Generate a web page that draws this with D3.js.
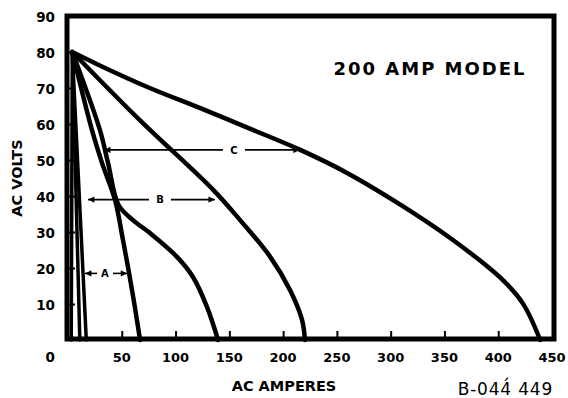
<!doctype html>
<html>
  <head>
    <script type="text/javascript" src="https://cdn.jsdelivr.net/npm/d3@7"></script>
    <style>
      body { margin: 0; background: #fff; }
      text { font-family: "DejaVu Sans", sans-serif; fill: #000; }
    </style>
  </head>

<body>
    <svg width="568" height="398"></svg>
<script>
// volt-ampere curves, [amps, volts]
const curveG1 = [[4, 80], [3, 0]];
const curveG2 = [[4, 80], [11, 0]];
const curveG3 = [[4, 80], [17, 0]];
const curveF = [[4, 80], [22.3, 58.3], [31.6, 49.2], [43.7, 38.9], [51.1, 27.8], [59.5, 13.9], [67, 0]];
const curveE = [[4, 80], [29.7, 58.3], [37.2, 49.2], [47, 37.5], [60.4, 33.3], [76.2, 29.7], [101.3, 23.1], [116.2, 17.5], [129.2, 9.2], [139.5, 0]];
const curveD = [[4, 80], [67, 61], [135, 41.7], [160, 33.3], [188, 23.1], [206.4, 13.9], [217.6, 5.6], [220.3, 0]];
const curveC = [[4, 80], [30, 76.2], [76, 70], [123, 64.4], [169, 58.7], [216, 52.8], [262, 46], [309, 37.6], [355, 28.4], [402, 17.3], [423, 10.1], [439, 0]];

const curves = [curveG1, curveG2, curveG3, curveF, curveE, curveD, curveC];

// range arrows: label, volts level, from amps, to amps, label amps
const arrowLabels = ["A", "B", "C"];
const arrowVolts = [18.5, 39, 52.8];
const arrowFrom = [15.8, 18.6, 33.5];
const arrowTo = [55, 136.5, 215.5];
const arrowAt = [34.4, 85.5, 154.3];

const xTicks = [50, 100, 150, 200, 250, 300, 350, 400, 450];
const yTicks = [10, 20, 30, 40, 50, 60, 70, 80, 90];

const svg = d3.select("svg");

const x = d3.scaleLinear().domain([0, 450]).range([68, 552]);
const y = d3.scaleLinear().domain([0, 90]).range([340, 16]);

const defs = svg.append("defs");
defs.append("marker")
    .attr("id", "head")
    .attr("viewBox", "0 0 10 10")
    .attr("refX", 10).attr("refY", 5)
    .attr("markerWidth", 5.5).attr("markerHeight", 4)
    .attr("markerUnits", "strokeWidth")
    .attr("orient", "auto-start-reverse")
  .append("path")
    .attr("d", "M0,0L10,5L0,10Z")
    .attr("fill", "#000");

// frame
svg.append("rect")
    .attr("x", x(0) - 1)
    .attr("y", y(90))
    .attr("width", x(450) - x(0) + 3)
    .attr("height", y(0) - y(90) - 1)
    .attr("fill", "none")
    .attr("stroke", "#000")
    .attr("stroke-width", 5);

// inward ticks
svg.append("g")
    .attr("transform", "translate(0," + (y(0) - 1) + ")")
    .call(d3.axisTop(x).tickValues(xTicks.slice(0, -1)).tickSize(8).tickFormat(""))
    .call(g => g.select(".domain").remove())
    .call(g => g.selectAll("line").attr("stroke-width", 2));

svg.append("g")
    .attr("transform", "translate(" + (x(0) - 1) + ",0)")
    .call(d3.axisRight(y).tickValues(yTicks.slice(0, -1)).tickSize(8).tickFormat(""))
    .call(g => g.select(".domain").remove())
    .call(g => g.selectAll("line").attr("stroke-width", 2));

// tick labels
svg.append("g").selectAll("text")
    .data(xTicks)
    .join("text")
      .attr("x", d => x(d))
      .attr("y", 362)
      .attr("text-anchor", "middle")
      .style("font-size", "13px")
      .style("font-weight", "bold")
      .text(d => d);

svg.append("g").selectAll("text")
    .data(yTicks)
    .join("text")
      .attr("x", 55)
      .attr("y", d => y(d) + 1)
      .attr("dy", "0.36em")
      .attr("text-anchor", "end")
      .style("font-size", "13.5px")
      .style("font-weight", "bold")
      .text(d => d);

svg.append("text")
    .attr("x", 55)
    .attr("y", 362)
    .attr("text-anchor", "end")
    .style("font-size", "13.5px")
    .style("font-weight", "bold")
    .text("0");

// curves
const line = d3.line()
    .x(d => x(d[0]))
    .y(d => y(d[1]))
    .curve(d3.curveCatmullRom.alpha(0.5));

svg.append("g").selectAll("path")
    .data(curves)
    .join("path")
      .attr("d", line)
      .attr("fill", "none")
      .attr("stroke", "#000")
      .attr("stroke-width", (d, i) => i < 3 ? 3.5 : 4.5)
      .attr("stroke-linejoin", "round")
      .attr("stroke-linecap", "round");

// range arrows
const arrows = svg.append("g");
arrowLabels.forEach((lab, i) => {
  const yy = y(arrowVolts[i]);
  const cx = x(arrowAt[i]);
  const gap = i === 0 ? 8 : 11;
  arrows.append("line")
      .attr("x1", cx - gap).attr("x2", x(arrowFrom[i]))
      .attr("y1", yy).attr("y2", yy)
      .attr("stroke", "#000").attr("stroke-width", 1.6)
      .attr("marker-end", "url(#head)");
  arrows.append("line")
      .attr("x1", cx + gap).attr("x2", x(arrowTo[i]))
      .attr("y1", yy).attr("y2", yy)
      .attr("stroke", "#000").attr("stroke-width", 1.6)
      .attr("marker-end", "url(#head)");
  arrows.append("text")
      .attr("x", cx)
      .attr("y", yy)
      .attr("dy", "0.36em")
      .attr("text-anchor", "middle")
      .style("font-size", "10px")
      .style("font-weight", "bold")
      .text(lab);
});

// titles
svg.append("text")
    .attr("x", 430)
    .attr("y", 75)
    .attr("text-anchor", "middle")
    .style("font-size", "18px")
    .style("font-weight", "bold")
    .style("letter-spacing", "2px")
    .text("200 AMP MODEL");

svg.append("text")
    .attr("x", 284)
    .attr("y", 391)
    .attr("text-anchor", "middle")
    .style("font-size", "14.5px")
    .style("font-weight", "bold")
    .text("AC AMPERES");

svg.append("text")
    .attr("transform", "translate(22,178) rotate(-90)")
    .attr("text-anchor", "middle")
    .style("font-size", "14.5px")
    .style("font-weight", "bold")
    .text("AC VOLTS");

svg.append("text")
    .attr("x", 553)
    .attr("y", 395)
    .attr("text-anchor", "end")
    .style("font-size", "17px")
    .style("letter-spacing", "0.8px")
    .text("B-044\u0301 449");
</script>
</body>
</html>
